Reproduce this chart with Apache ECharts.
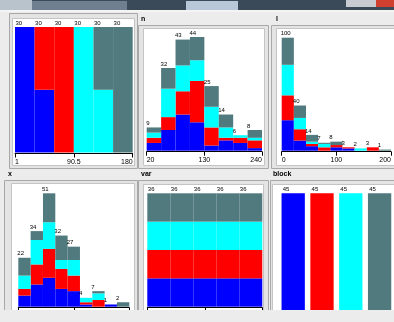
<!DOCTYPE html>
<html><head><meta charset="utf-8">
<script src="https://cdn.jsdelivr.net/npm/echarts@6/dist/echarts.min.js"></script>
<style>html,body{margin:0;padding:0;background:#ececec;overflow:hidden}#c{width:394px;height:322px}</style>
</head><body><div id="c"></div>
<script>
// ---- data (class counts per bin, stacked bottom->top: blue, red, cyan, gray) ----
const classColors = ['#0000ff', '#ff0000', '#00ffff', '#517a7e'];

// panel 1 (instance index, no title)
const idxBlue = [30, 15, 0, 0, 0, 0];
const idxRed  = [0, 15, 30, 0, 0, 0];
const idxCyan = [0, 0, 0, 30, 15, 0];
const idxGray = [0, 0, 0, 0, 15, 30];
const idxTicks = ['1', '90.5', '180'];

// panel "n"
const nBlue = [3, 8, 14, 11, 2, 4, 3, 1];
const nRed  = [2, 5, 9, 16, 7, 1, 2, 3];
const nCyan = [2, 11, 10, 8, 8, 4, 1, 1];
const nGray = [2, 8, 10, 9, 8, 5, 0, 3];
const nTicks = ['20', '130', '240'];

// panel "l"
const lBlue = [27, 9, 4, 0, 3, 2, 0, 0, 0];
const lRed  = [22, 10, 2, 3, 2, 1, 0, 3, 0];
const lCyan = [27, 10, 2, 3, 0, 0, 2, 0, 0];
const lGray = [24, 11, 6, 1, 3, 0, 0, 0, 1];
const lTicks = ['0', '100', '200'];

// panel "x"
const xBlue = [5, 10, 13, 8, 7, 1, 0, 1, 0];
const xRed  = [3, 9, 13, 9, 7, 1, 3, 0, 0];
const xCyan = [6, 11, 12, 4, 7, 2, 3, 0, 0];
const xGray = [8, 4, 13, 11, 6, 0, 1, 0, 2];
const xTicks = ['', '', ''];

// panel "var"
const varBlue = [9, 9, 9, 9, 9];
const varRed  = [9, 9, 9, 9, 9];
const varCyan = [9, 9, 9, 9, 9];
const varGray = [9, 9, 9, 9, 9];
const varTicks = ['', '', ''];

// panel "block"
const blockBlue = [45, 0, 0, 0];
const blockRed  = [0, 45, 0, 0];
const blockCyan = [0, 0, 45, 0];
const blockGray = [0, 0, 0, 45];

// ---- layout ----
const panels = [
  {title: '',      tx: 0,   ty: 0,   frame: [9, 13, 128, 155],  white: [14, 20, 120, 145], grid: [15, 27, 117.7, 125.5],   series: [idxBlue, idxRed, idxCyan, idxGray], ticks: idxTicks, axis: true, labels: true, lx: 2.5},
  {title: 'n',     tx: 141, ty: 19,  frame: [138, 25, 130, 143], white: [145, 30, 119, 135], grid: [146.7, 37, 115.3, 113.7], series: [nBlue, nRed, nCyan, nGray], ticks: nTicks, axis: true, labels: true, lx: 1.5},
  {title: 'l',     tx: 276, ty: 19,  frame: [271, 25, 130, 143], white: [278, 30, 120, 135], grid: [281.7, 37.7, 111.9, 113], series: [lBlue, lRed, lCyan, lGray], ticks: lTicks, axis: true, labels: true, lx: 1},
  {title: 'x',     tx: 8,   ty: 174, frame: [4, 180, 133, 150],  white: [13, 185, 121, 125], grid: [18.3, 193.3, 111, 113.4], series: [xBlue, xRed, xCyan, xGray], ticks: xTicks, axis: true, labels: false, lx: 1},
  {title: 'var',   tx: 141, ty: 174, frame: [138, 180, 130, 150], white: [145, 186, 118, 124], grid: [147.3, 193.3, 115, 113.4], series: [varBlue, varRed, varCyan, varGray], ticks: varTicks, axis: true, labels: false, lx: 2.5},
  {title: 'block', tx: 273, ty: 174, frame: [270, 180, 130, 150], white: [274, 186, 122, 124], grid: [278.8, 193.3, 116.4, 124.7], series: [blockBlue, blockRed, blockCyan, blockGray], ticks: null, axis: false, labels: false, lx: 3.2, barWidth: 23.3}
];

const grids = [], xAxes = [], yAxes = [], series = [], graphics = [];

// window title bar
graphics.push({type: 'rect', shape: {x: 0, y: 0, width: 394, height: 10}, style: {fill: '#3b4a59'}, z: -10});
graphics.push({type: 'rect', shape: {x: 0, y: 0, width: 32, height: 10}, style: {fill: '#b9c3cc'}, z: -9});
graphics.push({type: 'rect', shape: {x: 32, y: 1, width: 95, height: 9}, style: {fill: '#6f7f8f'}, z: -9});
graphics.push({type: 'rect', shape: {x: 186, y: 1, width: 52, height: 9}, style: {fill: '#b8c8d8'}, z: -9});
graphics.push({type: 'rect', shape: {x: 346, y: 0, width: 16, height: 7}, style: {fill: '#c8ccd2'}, z: -9});
graphics.push({type: 'rect', shape: {x: 362, y: 0, width: 14, height: 7}, style: {fill: '#c8ccd2'}, z: -9});
graphics.push({type: 'rect', shape: {x: 376, y: 0, width: 18, height: 7}, style: {fill: '#d04030'}, z: -9});
graphics.push({type: 'rect', shape: {x: 0, y: 10, width: 394, height: 2}, style: {fill: '#f4f4f4'}, z: -9});

panels.forEach((p, gi) => {
  const [fx, fy, fw, fh] = p.frame;
  graphics.push({type: 'rect', shape: {x: fx + 0.5, y: fy + 0.5, width: fw, height: fh}, style: {fill: '#e4e4e4', stroke: '#a8a8a8', lineWidth: 1}, z: -5});
  const [wx, wy, ww, wh] = p.white;
  graphics.push({type: 'rect', shape: {x: wx - 1.5, y: wy - 1.5, width: ww + 2, height: wh + 2}, style: {fill: '#ffffff', stroke: '#c4c4c4', lineWidth: 1}, z: -4});
  graphics.push({type: 'rect', shape: {x: wx, y: wy, width: ww, height: wh}, style: {fill: '#ffffff'}, z: -3});
  if (p.title) {
    graphics.push({type: 'text', x: p.tx, y: p.ty, style: {text: p.title, fill: '#000', font: 'bold 7px "Liberation Sans"', verticalAlign: 'middle'}, z: -2});
  }
  const [gl, gt, gw, gh] = p.grid;
  grids.push({left: gl, top: gt, width: gw, height: gh, containLabel: false});
  const n = p.series[0].length;
  const cats = Array.from({length: n}, (_, i) => 'b' + i);
  const totals = cats.map((_, i) => p.series.reduce((s, arr) => s + arr[i], 0));
  const maxTot = Math.max(...totals);
  const catAxisIndex = xAxes.length;
  xAxes.push({type: 'category', gridIndex: gi, data: cats, show: false, boundaryGap: true});
  if (p.axis) {
    xAxes.push({
      type: 'value', gridIndex: gi, min: 0, max: 2, interval: 1, position: 'bottom', offset: 1,
      axisLine: {show: true, lineStyle: {color: '#000', width: 1}},
      axisTick: {show: true, length: 4, lineStyle: {color: '#000'}},
      splitLine: {show: false},
      axisLabel: {show: p.labels, margin: 5, fontSize: 7, fontFamily: 'Liberation Sans', color: '#000',
        alignMinLabel: 'left', alignMaxLabel: 'right',
        formatter: v => (p.ticks ? p.ticks[v] : '')}
    });
  }
  const yIdx = yAxes.length;
  yAxes.push({type: 'value', gridIndex: gi, min: 0, max: maxTot, show: false, splitLine: {show: false}});
  p.series.forEach((arr, ci) => {
    const s = {
      type: 'bar', xAxisIndex: catAxisIndex, yAxisIndex: yIdx, stack: 'g' + gi,
      data: arr, itemStyle: {color: classColors[ci]}, silent: true, animation: false
    };
    if (p.barWidth) { s.barWidth = p.barWidth; } else { s.barCategoryGap = '0%'; }
    series.push(s);
  });
  // count labels on top of each bin
  const bw = p.barWidth;
  series.push({
    type: 'custom', xAxisIndex: catAxisIndex, yAxisIndex: yIdx, animation: false, silent: true,
    data: totals.map((t, i) => [i, t]),
    encode: {x: 0, y: 1},
    renderItem: (params, api) => {
      const pt = api.coord([api.value(0), api.value(1)]);
      const band = api.size([1, 0])[0];
      const w = bw || band;
      return {type: 'text', x: pt[0] - w / 2 + p.lx - 2, y: pt[1] - 1,
        style: {text: String(api.value(1)), fill: '#000', font: '6px "Liberation Sans"', align: 'left', verticalAlign: 'bottom'}};
    },
    z: 5
  });
});

// screenshot is cut at the bottom of the lower panels
graphics.push({type: 'rect', shape: {x: 0, y: 310, width: 394, height: 12}, style: {fill: '#ececec'}, z: 100, zlevel: 1});

const chart = echarts.init(document.getElementById('c'), null, {renderer: 'canvas'});
chart.setOption({
  animation: false,
  backgroundColor: '#ececec',
  grid: grids, xAxis: xAxes, yAxis: yAxes, series: series,
  graphic: {elements: graphics}
});
</script></body></html>
